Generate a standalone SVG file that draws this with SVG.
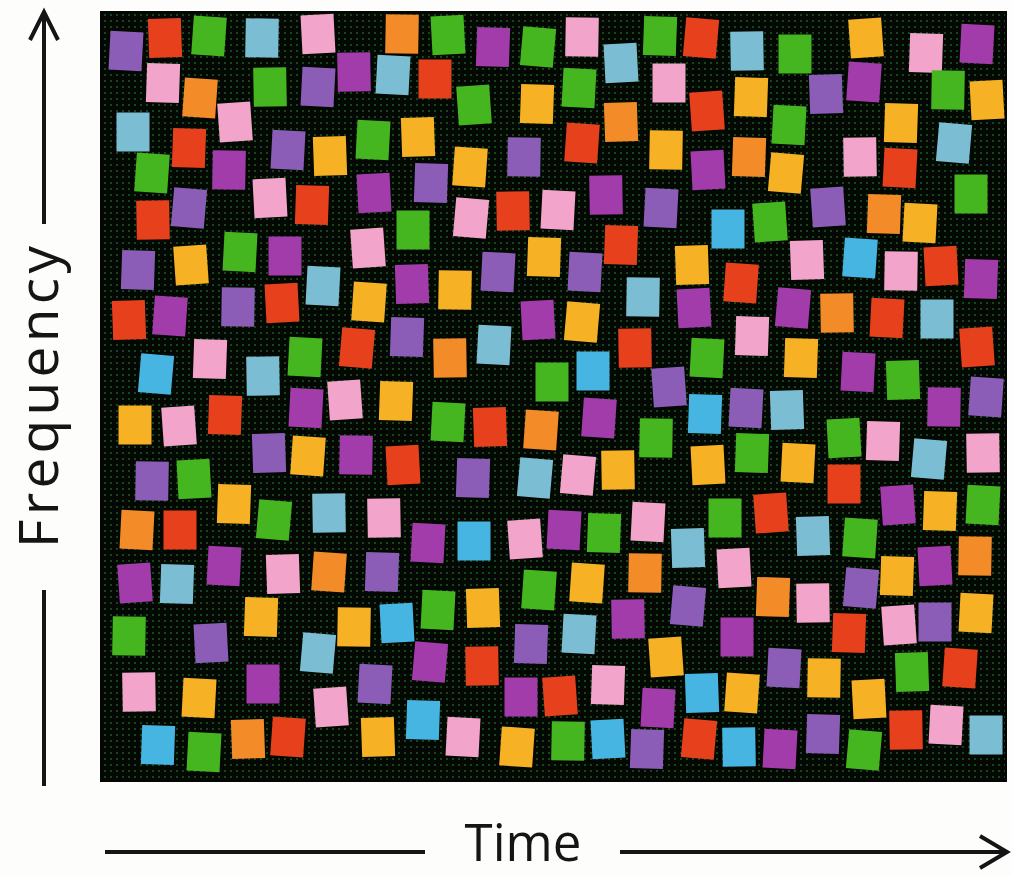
<svg xmlns="http://www.w3.org/2000/svg" xmlns:xlink="http://www.w3.org/1999/xlink" width="1012" height="876" viewBox="0 0 1012 876">
<style>
.V{fill:#8b5db7}.M{fill:#a23cab}.R{fill:#e6401d}.G{fill:#45b61f}.C{fill:#7bbdd2}.S{fill:#47b5e2}.P{fill:#f2a4cb}.O{fill:#f28b28}.Y{fill:#f6b224}
.ax{stroke:#151515;stroke-width:4;fill:none;stroke-linecap:butt}
.lbl{font-family:"Open Sans","Liberation Sans",sans-serif;font-size:55px;fill:#151515}
.tl{font-size:51px}
</style>
<defs>
<rect id="sq" x="-16.5" y="-19.5" width="33" height="39"/>
<pattern id="dots" width="6" height="6" patternUnits="userSpaceOnUse">
<rect width="6" height="6" fill="#030803"/>
<circle cx="3" cy="3" r="1" fill="#1c5a26"/>
</pattern>
</defs>
<rect width="1012" height="876" fill="#fdfdfb"/>
<g id="axes">
<path class="ax" d="M44 12V224M30 40L44 12L58 40"/>
<path class="ax" d="M44 590V786"/>
<path class="ax" d="M105 852H425"/>
<path class="ax" d="M620 852H1006M980 836L1007 852L980 868"/>
<text class="lbl" transform="translate(58 548) rotate(-90)" textLength="302" lengthAdjust="spacing">Frequency</text>
<text class="lbl tl" x="523" y="861" text-anchor="middle">Time</text>
</g>
<rect id="field" x="101" y="12" width="905" height="769" fill="url(#dots)" stroke="#050505" stroke-width="2"/>
<g id="squares">
<use href="#sq" class="V" transform="translate(126 51) rotate(3)"/>
<use href="#sq" class="R" transform="translate(165 38) rotate(-2)"/>
<use href="#sq" class="G" transform="translate(209 36) rotate(4)"/>
<use href="#sq" class="C" transform="translate(262 38) rotate(1)"/>
<use href="#sq" class="P" transform="translate(318 34) rotate(-3)"/>
<use href="#sq" class="P" transform="translate(163 83) rotate(2)"/>
<use href="#sq" class="O" transform="translate(200 98) rotate(4)"/>
<use href="#sq" class="G" transform="translate(270 87) rotate(-1)"/>
<use href="#sq" class="V" transform="translate(318 87) rotate(3)"/>
<use href="#sq" class="C" transform="translate(133 132) rotate(0)"/>
<use href="#sq" class="P" transform="translate(235 122) rotate(-4)"/>
<use href="#sq" class="R" transform="translate(189 148) rotate(2)"/>
<use href="#sq" class="V" transform="translate(288 150) rotate(3)"/>
<use href="#sq" class="Y" transform="translate(330 156) rotate(-2)"/>
<use href="#sq" class="G" transform="translate(152 173) rotate(4)"/>
<use href="#sq" class="M" transform="translate(229 170) rotate(1)"/>
<use href="#sq" class="P" transform="translate(270 198) rotate(-3)"/>
<use href="#sq" class="R" transform="translate(312 205) rotate(2)"/>
<use href="#sq" class="V" transform="translate(189 208) rotate(5)"/>
<use href="#sq" class="R" transform="translate(153 220) rotate(-1)"/>
<use href="#sq" class="G" transform="translate(240 252) rotate(3)"/>
<use href="#sq" class="M" transform="translate(285 256) rotate(0)"/>
<use href="#sq" class="Y" transform="translate(191 265) rotate(-4)"/>
<use href="#sq" class="V" transform="translate(138 270) rotate(2)"/>
<use href="#sq" class="C" transform="translate(323 286) rotate(3)"/>
<use href="#sq" class="R" transform="translate(129 320) rotate(-2)"/>
<use href="#sq" class="M" transform="translate(170 316) rotate(4)"/>
<use href="#sq" class="V" transform="translate(238 307) rotate(1)"/>
<use href="#sq" class="R" transform="translate(282 303) rotate(-3)"/>
<use href="#sq" class="P" transform="translate(210 359) rotate(2)"/>
<use href="#sq" class="S" transform="translate(156 374) rotate(5)"/>
<use href="#sq" class="C" transform="translate(263 376) rotate(-1)"/>
<use href="#sq" class="G" transform="translate(305 357) rotate(3)"/>
<use href="#sq" class="Y" transform="translate(135 425) rotate(0)"/>
<use href="#sq" class="P" transform="translate(179 426) rotate(-4)"/>
<use href="#sq" class="R" transform="translate(225 415) rotate(2)"/>
<use href="#sq" class="M" transform="translate(306 408) rotate(3)"/>
<use href="#sq" class="V" transform="translate(269 453) rotate(-2)"/>
<use href="#sq" class="Y" transform="translate(308 456) rotate(4)"/>
<use href="#sq" class="V" transform="translate(152 481) rotate(1)"/>
<use href="#sq" class="G" transform="translate(194 479) rotate(-3)"/>
<use href="#sq" class="Y" transform="translate(234 504) rotate(2)"/>
<use href="#sq" class="G" transform="translate(274 520) rotate(5)"/>
<use href="#sq" class="C" transform="translate(329 513) rotate(-1)"/>
<use href="#sq" class="O" transform="translate(137 530) rotate(3)"/>
<use href="#sq" class="R" transform="translate(180 530) rotate(0)"/>
<use href="#sq" class="M" transform="translate(135 583) rotate(-4)"/>
<use href="#sq" class="C" transform="translate(177 584) rotate(2)"/>
<use href="#sq" class="M" transform="translate(224 566) rotate(3)"/>
<use href="#sq" class="P" transform="translate(283 574) rotate(-2)"/>
<use href="#sq" class="O" transform="translate(329 572) rotate(4)"/>
<use href="#sq" class="G" transform="translate(129 636) rotate(1)"/>
<use href="#sq" class="V" transform="translate(211 643) rotate(-3)"/>
<use href="#sq" class="Y" transform="translate(261 617) rotate(2)"/>
<use href="#sq" class="C" transform="translate(318 653) rotate(5)"/>
<use href="#sq" class="P" transform="translate(139 692) rotate(-1)"/>
<use href="#sq" class="Y" transform="translate(199 698) rotate(3)"/>
<use href="#sq" class="M" transform="translate(263 684) rotate(0)"/>
<use href="#sq" class="P" transform="translate(331 707) rotate(-4)"/>
<use href="#sq" class="S" transform="translate(158 745) rotate(2)"/>
<use href="#sq" class="G" transform="translate(204 752) rotate(3)"/>
<use href="#sq" class="O" transform="translate(248 739) rotate(-2)"/>
<use href="#sq" class="R" transform="translate(288 737) rotate(4)"/>
<use href="#sq" class="O" transform="translate(402 34) rotate(1)"/>
<use href="#sq" class="G" transform="translate(448 35) rotate(-3)"/>
<use href="#sq" class="M" transform="translate(493 47) rotate(2)"/>
<use href="#sq" class="G" transform="translate(538 47) rotate(5)"/>
<use href="#sq" class="M" transform="translate(354 72) rotate(-1)"/>
<use href="#sq" class="C" transform="translate(393 75) rotate(3)"/>
<use href="#sq" class="R" transform="translate(435 79) rotate(0)"/>
<use href="#sq" class="G" transform="translate(474 105) rotate(-4)"/>
<use href="#sq" class="Y" transform="translate(537 104) rotate(2)"/>
<use href="#sq" class="G" transform="translate(373 140) rotate(3)"/>
<use href="#sq" class="Y" transform="translate(418 137) rotate(-2)"/>
<use href="#sq" class="Y" transform="translate(470 167) rotate(4)"/>
<use href="#sq" class="V" transform="translate(524 157) rotate(1)"/>
<use href="#sq" class="M" transform="translate(374 193) rotate(-3)"/>
<use href="#sq" class="V" transform="translate(431 183) rotate(2)"/>
<use href="#sq" class="P" transform="translate(471 218) rotate(5)"/>
<use href="#sq" class="R" transform="translate(513 211) rotate(-1)"/>
<use href="#sq" class="P" transform="translate(558 210) rotate(3)"/>
<use href="#sq" class="G" transform="translate(413 230) rotate(0)"/>
<use href="#sq" class="P" transform="translate(368 248) rotate(-4)"/>
<use href="#sq" class="Y" transform="translate(544 257) rotate(2)"/>
<use href="#sq" class="V" transform="translate(498 272) rotate(3)"/>
<use href="#sq" class="M" transform="translate(412 284) rotate(-2)"/>
<use href="#sq" class="Y" transform="translate(369 302) rotate(4)"/>
<use href="#sq" class="Y" transform="translate(455 290) rotate(1)"/>
<use href="#sq" class="M" transform="translate(538 320) rotate(-3)"/>
<use href="#sq" class="V" transform="translate(407 337) rotate(2)"/>
<use href="#sq" class="R" transform="translate(357 348) rotate(5)"/>
<use href="#sq" class="O" transform="translate(450 358) rotate(-1)"/>
<use href="#sq" class="C" transform="translate(494 345) rotate(3)"/>
<use href="#sq" class="G" transform="translate(552 382) rotate(0)"/>
<use href="#sq" class="P" transform="translate(345 400) rotate(-4)"/>
<use href="#sq" class="Y" transform="translate(396 401) rotate(2)"/>
<use href="#sq" class="G" transform="translate(448 422) rotate(3)"/>
<use href="#sq" class="R" transform="translate(490 427) rotate(-2)"/>
<use href="#sq" class="O" transform="translate(541 430) rotate(4)"/>
<use href="#sq" class="M" transform="translate(356 455) rotate(1)"/>
<use href="#sq" class="R" transform="translate(403 465) rotate(-3)"/>
<use href="#sq" class="V" transform="translate(473 478) rotate(2)"/>
<use href="#sq" class="C" transform="translate(535 478) rotate(5)"/>
<use href="#sq" class="P" transform="translate(384 518) rotate(-1)"/>
<use href="#sq" class="M" transform="translate(428 543) rotate(3)"/>
<use href="#sq" class="S" transform="translate(474 541) rotate(0)"/>
<use href="#sq" class="P" transform="translate(525 539) rotate(-4)"/>
<use href="#sq" class="V" transform="translate(382 572) rotate(2)"/>
<use href="#sq" class="G" transform="translate(438 610) rotate(3)"/>
<use href="#sq" class="Y" transform="translate(483 608) rotate(-2)"/>
<use href="#sq" class="G" transform="translate(539 590) rotate(4)"/>
<use href="#sq" class="Y" transform="translate(354 627) rotate(1)"/>
<use href="#sq" class="S" transform="translate(397 623) rotate(-3)"/>
<use href="#sq" class="V" transform="translate(531 644) rotate(2)"/>
<use href="#sq" class="M" transform="translate(430 662) rotate(5)"/>
<use href="#sq" class="R" transform="translate(482 666) rotate(-1)"/>
<use href="#sq" class="V" transform="translate(375 684) rotate(3)"/>
<use href="#sq" class="M" transform="translate(521 697) rotate(0)"/>
<use href="#sq" class="R" transform="translate(560 696) rotate(-4)"/>
<use href="#sq" class="S" transform="translate(423 720) rotate(2)"/>
<use href="#sq" class="P" transform="translate(463 737) rotate(3)"/>
<use href="#sq" class="Y" transform="translate(378 737) rotate(-2)"/>
<use href="#sq" class="Y" transform="translate(517 747) rotate(4)"/>
<use href="#sq" class="P" transform="translate(582 37) rotate(1)"/>
<use href="#sq" class="C" transform="translate(621 63) rotate(-3)"/>
<use href="#sq" class="G" transform="translate(660 36) rotate(2)"/>
<use href="#sq" class="R" transform="translate(701 38) rotate(5)"/>
<use href="#sq" class="C" transform="translate(747 51) rotate(-1)"/>
<use href="#sq" class="G" transform="translate(579 88) rotate(3)"/>
<use href="#sq" class="P" transform="translate(669 83) rotate(0)"/>
<use href="#sq" class="R" transform="translate(707 111) rotate(-4)"/>
<use href="#sq" class="Y" transform="translate(751 97) rotate(2)"/>
<use href="#sq" class="G" transform="translate(789 125) rotate(3)"/>
<use href="#sq" class="O" transform="translate(621 122) rotate(-2)"/>
<use href="#sq" class="R" transform="translate(582 143) rotate(4)"/>
<use href="#sq" class="Y" transform="translate(666 150) rotate(1)"/>
<use href="#sq" class="M" transform="translate(708 170) rotate(-3)"/>
<use href="#sq" class="O" transform="translate(749 157) rotate(2)"/>
<use href="#sq" class="Y" transform="translate(786 173) rotate(5)"/>
<use href="#sq" class="M" transform="translate(606 195) rotate(-1)"/>
<use href="#sq" class="V" transform="translate(661 208) rotate(3)"/>
<use href="#sq" class="S" transform="translate(728 229) rotate(0)"/>
<use href="#sq" class="G" transform="translate(770 222) rotate(-4)"/>
<use href="#sq" class="R" transform="translate(621 245) rotate(2)"/>
<use href="#sq" class="V" transform="translate(585 272) rotate(3)"/>
<use href="#sq" class="Y" transform="translate(692 265) rotate(-2)"/>
<use href="#sq" class="R" transform="translate(741 283) rotate(4)"/>
<use href="#sq" class="C" transform="translate(643 297) rotate(1)"/>
<use href="#sq" class="M" transform="translate(694 308) rotate(-3)"/>
<use href="#sq" class="P" transform="translate(752 336) rotate(2)"/>
<use href="#sq" class="Y" transform="translate(582 322) rotate(5)"/>
<use href="#sq" class="R" transform="translate(635 348) rotate(-1)"/>
<use href="#sq" class="G" transform="translate(707 358) rotate(3)"/>
<use href="#sq" class="S" transform="translate(593 371) rotate(0)"/>
<use href="#sq" class="V" transform="translate(669 387) rotate(-4)"/>
<use href="#sq" class="S" transform="translate(705 414) rotate(2)"/>
<use href="#sq" class="V" transform="translate(746 408) rotate(3)"/>
<use href="#sq" class="C" transform="translate(787 410) rotate(-2)"/>
<use href="#sq" class="M" transform="translate(599 418) rotate(4)"/>
<use href="#sq" class="G" transform="translate(656 438) rotate(1)"/>
<use href="#sq" class="Y" transform="translate(708 465) rotate(-3)"/>
<use href="#sq" class="G" transform="translate(752 453) rotate(2)"/>
<use href="#sq" class="P" transform="translate(578 475) rotate(5)"/>
<use href="#sq" class="Y" transform="translate(618 470) rotate(-1)"/>
<use href="#sq" class="P" transform="translate(648 522) rotate(3)"/>
<use href="#sq" class="G" transform="translate(725 518) rotate(0)"/>
<use href="#sq" class="R" transform="translate(771 513) rotate(-4)"/>
<use href="#sq" class="G" transform="translate(604 533) rotate(2)"/>
<use href="#sq" class="M" transform="translate(564 530) rotate(3)"/>
<use href="#sq" class="C" transform="translate(688 548) rotate(-2)"/>
<use href="#sq" class="Y" transform="translate(587 583) rotate(4)"/>
<use href="#sq" class="O" transform="translate(645 573) rotate(1)"/>
<use href="#sq" class="P" transform="translate(734 568) rotate(-3)"/>
<use href="#sq" class="O" transform="translate(773 597) rotate(2)"/>
<use href="#sq" class="V" transform="translate(688 606) rotate(5)"/>
<use href="#sq" class="M" transform="translate(628 619) rotate(-1)"/>
<use href="#sq" class="C" transform="translate(579 634) rotate(3)"/>
<use href="#sq" class="M" transform="translate(737 637) rotate(0)"/>
<use href="#sq" class="Y" transform="translate(666 657) rotate(-4)"/>
<use href="#sq" class="P" transform="translate(608 685) rotate(2)"/>
<use href="#sq" class="M" transform="translate(658 708) rotate(3)"/>
<use href="#sq" class="S" transform="translate(702 693) rotate(-2)"/>
<use href="#sq" class="Y" transform="translate(742 693) rotate(4)"/>
<use href="#sq" class="G" transform="translate(568 741) rotate(1)"/>
<use href="#sq" class="S" transform="translate(608 739) rotate(-3)"/>
<use href="#sq" class="V" transform="translate(647 749) rotate(2)"/>
<use href="#sq" class="R" transform="translate(699 739) rotate(5)"/>
<use href="#sq" class="S" transform="translate(739 747) rotate(-1)"/>
<use href="#sq" class="M" transform="translate(780 749) rotate(3)"/>
<use href="#sq" class="G" transform="translate(795 54) rotate(0)"/>
<use href="#sq" class="Y" transform="translate(866 38) rotate(-4)"/>
<use href="#sq" class="P" transform="translate(926 53) rotate(2)"/>
<use href="#sq" class="M" transform="translate(977 44) rotate(3)"/>
<use href="#sq" class="V" transform="translate(826 94) rotate(-2)"/>
<use href="#sq" class="M" transform="translate(864 82) rotate(4)"/>
<use href="#sq" class="G" transform="translate(948 90) rotate(1)"/>
<use href="#sq" class="Y" transform="translate(987 100) rotate(-3)"/>
<use href="#sq" class="Y" transform="translate(901 123) rotate(2)"/>
<use href="#sq" class="C" transform="translate(954 143) rotate(5)"/>
<use href="#sq" class="P" transform="translate(860 157) rotate(-1)"/>
<use href="#sq" class="R" transform="translate(900 168) rotate(3)"/>
<use href="#sq" class="G" transform="translate(971 194) rotate(0)"/>
<use href="#sq" class="V" transform="translate(828 207) rotate(-4)"/>
<use href="#sq" class="O" transform="translate(884 214) rotate(2)"/>
<use href="#sq" class="Y" transform="translate(920 223) rotate(3)"/>
<use href="#sq" class="P" transform="translate(807 260) rotate(-2)"/>
<use href="#sq" class="S" transform="translate(860 258) rotate(4)"/>
<use href="#sq" class="P" transform="translate(901 271) rotate(1)"/>
<use href="#sq" class="R" transform="translate(941 266) rotate(-3)"/>
<use href="#sq" class="M" transform="translate(981 279) rotate(2)"/>
<use href="#sq" class="M" transform="translate(793 308) rotate(5)"/>
<use href="#sq" class="O" transform="translate(837 313) rotate(-1)"/>
<use href="#sq" class="R" transform="translate(887 318) rotate(3)"/>
<use href="#sq" class="C" transform="translate(937 319) rotate(0)"/>
<use href="#sq" class="R" transform="translate(977 347) rotate(-4)"/>
<use href="#sq" class="Y" transform="translate(801 358) rotate(2)"/>
<use href="#sq" class="M" transform="translate(858 372) rotate(3)"/>
<use href="#sq" class="G" transform="translate(903 380) rotate(-2)"/>
<use href="#sq" class="V" transform="translate(986 397) rotate(4)"/>
<use href="#sq" class="M" transform="translate(944 407) rotate(1)"/>
<use href="#sq" class="G" transform="translate(844 438) rotate(-3)"/>
<use href="#sq" class="P" transform="translate(883 441) rotate(2)"/>
<use href="#sq" class="C" transform="translate(929 459) rotate(5)"/>
<use href="#sq" class="P" transform="translate(983 453) rotate(-1)"/>
<use href="#sq" class="Y" transform="translate(798 463) rotate(3)"/>
<use href="#sq" class="R" transform="translate(844 484) rotate(0)"/>
<use href="#sq" class="M" transform="translate(898 505) rotate(-4)"/>
<use href="#sq" class="Y" transform="translate(940 511) rotate(2)"/>
<use href="#sq" class="G" transform="translate(983 505) rotate(3)"/>
<use href="#sq" class="C" transform="translate(813 536) rotate(-2)"/>
<use href="#sq" class="G" transform="translate(860 538) rotate(4)"/>
<use href="#sq" class="O" transform="translate(975 556) rotate(1)"/>
<use href="#sq" class="M" transform="translate(935 566) rotate(-3)"/>
<use href="#sq" class="Y" transform="translate(897 576) rotate(2)"/>
<use href="#sq" class="V" transform="translate(861 588) rotate(5)"/>
<use href="#sq" class="P" transform="translate(813 603) rotate(-1)"/>
<use href="#sq" class="Y" transform="translate(976 613) rotate(3)"/>
<use href="#sq" class="V" transform="translate(935 622) rotate(0)"/>
<use href="#sq" class="P" transform="translate(899 625) rotate(-4)"/>
<use href="#sq" class="R" transform="translate(849 633) rotate(2)"/>
<use href="#sq" class="V" transform="translate(784 668) rotate(3)"/>
<use href="#sq" class="G" transform="translate(912 672) rotate(-2)"/>
<use href="#sq" class="R" transform="translate(960 668) rotate(4)"/>
<use href="#sq" class="Y" transform="translate(824 678) rotate(1)"/>
<use href="#sq" class="Y" transform="translate(869 699) rotate(-3)"/>
<use href="#sq" class="V" transform="translate(823 734) rotate(2)"/>
<use href="#sq" class="G" transform="translate(864 750) rotate(5)"/>
<use href="#sq" class="R" transform="translate(906 730) rotate(-1)"/>
<use href="#sq" class="P" transform="translate(946 725) rotate(3)"/>
<use href="#sq" class="C" transform="translate(986 735) rotate(0)"/>
</g>
</svg>
